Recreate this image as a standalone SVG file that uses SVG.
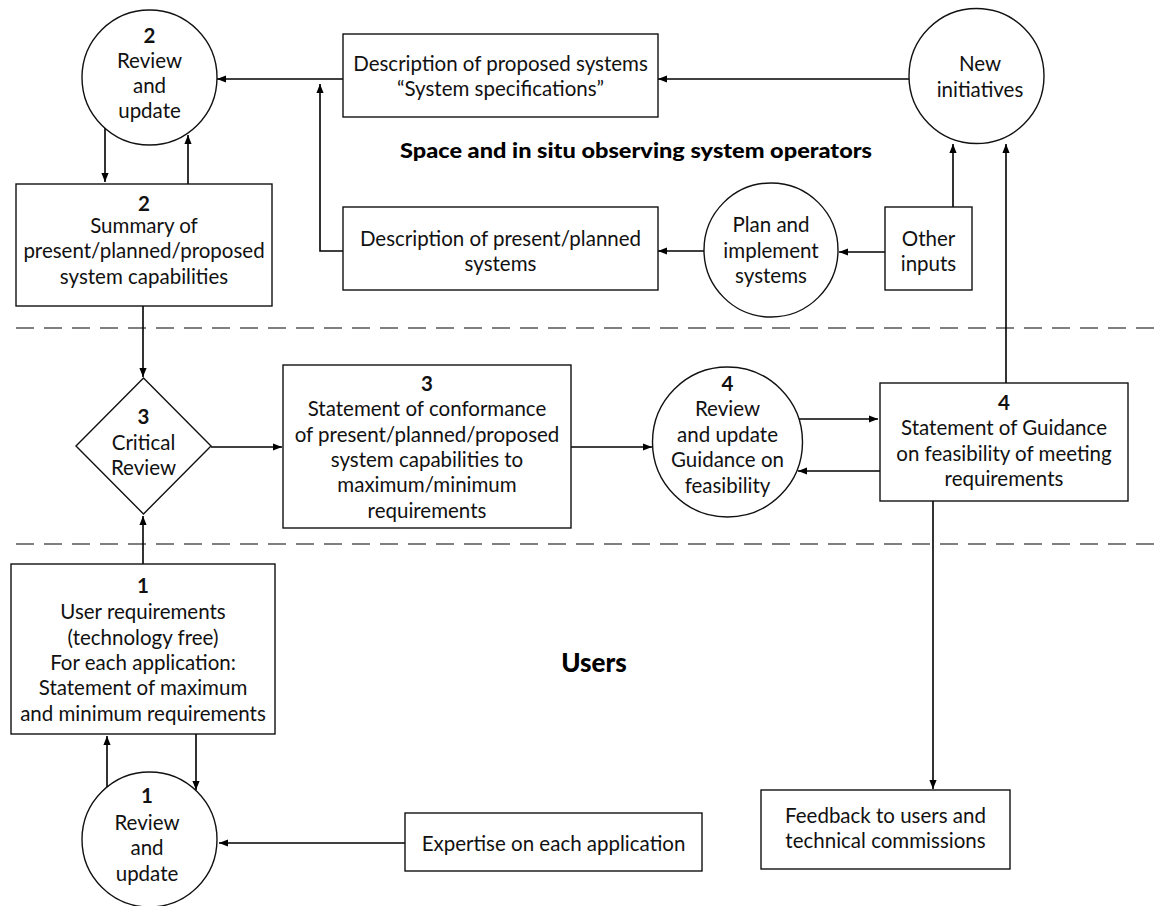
<svg xmlns="http://www.w3.org/2000/svg" width="1157" height="906" viewBox="0 0 1157 906">
<defs>
<marker id="arr" viewBox="0 0 10 8" markerWidth="9" markerHeight="7.5" refX="10" refY="4" orient="auto" markerUnits="userSpaceOnUse">
<path d="M0,0 L10,4 L0,8 z" fill="#000"/>
</marker>
<style>
.n{fill:#fff;stroke:#111;stroke-width:1.4}
.t{font-family:Lato,"Open Sans","DejaVu Sans",sans-serif;font-size:20.5px;fill:#111;text-anchor:middle;dominant-baseline:central}
.b{font-weight:bold}
.c{fill:none;stroke:#000;stroke-width:1.6;marker-end:url(#arr)}
.d{stroke:#555;stroke-width:1.6;stroke-dasharray:18 10;fill:none}
.h{font-family:Lato,"Open Sans","DejaVu Sans",sans-serif;font-weight:900;fill:#000;text-anchor:middle;dominant-baseline:central}
</style>
</defs>
<rect width="1157" height="906" fill="#fff"/>
<g id="dividers">
<line class="d" x1="16" y1="328" x2="1157" y2="328"/>
<line class="d" x1="16" y1="544" x2="1157" y2="544"/>
</g>
<g id="labels">
<text class="h" x="636" y="149" font-size="21" textLength="472" lengthAdjust="spacingAndGlyphs">Space and in situ observing system operators</text>
<text class="h" x="594" y="662" font-size="26">Users</text>
</g>
<g id="connectors">
<path class="c" d="M909,79 H658"/>
<path class="c" d="M343,79 H217"/>
<path class="c" d="M343,251 H320 V84"/>
<path class="c" d="M105,128 V182"/>
<path class="c" d="M188,184 V135"/>
<path class="c" d="M704,251 H658"/>
<path class="c" d="M885,252 H839"/>
<path class="c" d="M953,207 V144"/>
<path class="c" d="M1006,383 V144"/>
<path class="c" d="M143,306 V377"/>
<path class="c" d="M143,564 V516"/>
<path class="c" d="M211,447 H282"/>
<path class="c" d="M571,447 H652"/>
<path class="c" d="M799,419 H878"/>
<path class="c" d="M880,471 H798"/>
<path class="c" d="M933,501 V789"/>
<path class="c" d="M196,734 V790"/>
<path class="c" d="M107,788 V736"/>
<path class="c" d="M405,843 H219"/>
</g>
<g id="review2">
<circle class="n" cx="149.5" cy="77.5" r="67.5"/>
<text class="t b" x="149.5" y="35">2</text>
<text class="t" x="149.5" y="60">Review</text>
<text class="t" x="149.5" y="85">and</text>
<text class="t" x="149.5" y="110">update</text>
</g>
<g id="desc-proposed">
<rect class="n" x="343" y="34" width="315" height="83"/>
<text class="t" x="500.5" y="63">Description of proposed systems</text>
<text class="t" x="500.5" y="88">“System specifications”</text>
</g>
<g id="new-initiatives">
<circle class="n" cx="976.5" cy="76" r="67.5"/>
<text class="t" x="980" y="63">New</text>
<text class="t" x="980" y="89">initiatives</text>
</g>
<g id="summary2">
<rect class="n" x="16" y="184" width="256" height="122"/>
<text class="t b" x="144" y="203">2</text>
<text class="t" x="144" y="225">Summary of</text>
<text class="t" x="144" y="250">present/planned/proposed</text>
<text class="t" x="144" y="276">system capabilities</text>
</g>
<g id="desc-present">
<rect class="n" x="343" y="207" width="315" height="83"/>
<text class="t" x="500.5" y="238">Description of present/planned</text>
<text class="t" x="500.5" y="263">systems</text>
</g>
<g id="plan">
<circle class="n" cx="771" cy="250" r="67"/>
<text class="t" x="771" y="224">Plan and</text>
<text class="t" x="771" y="250">implement</text>
<text class="t" x="771" y="275">systems</text>
</g>
<g id="other-inputs">
<rect class="n" x="885" y="207" width="87" height="83"/>
<text class="t" x="928.5" y="238">Other</text>
<text class="t" x="928.5" y="263">inputs</text>
</g>
<g id="critical3">
<path class="n" d="M143.5,378 L211,446 L143.5,514 L76,446 z"/>
<text class="t b" x="143.5" y="416">3</text>
<text class="t" x="143.5" y="442">Critical</text>
<text class="t" x="143.5" y="467">Review</text>
</g>
<g id="statement3">
<rect class="n" x="283" y="365" width="288" height="163"/>
<text class="t b" x="427" y="383">3</text>
<text class="t" x="427" y="408">Statement of conformance</text>
<text class="t" x="427" y="434">of present/planned/proposed</text>
<text class="t" x="427" y="459">system capabilities to</text>
<text class="t" x="427" y="484">maximum/minimum</text>
<text class="t" x="427" y="510">requirements</text>
</g>
<g id="review4">
<circle class="n" cx="727.5" cy="442" r="75"/>
<text class="t b" x="727.5" y="383">4</text>
<text class="t" x="727.5" y="408">Review</text>
<text class="t" x="727.5" y="434">and update</text>
<text class="t" x="727.5" y="459">Guidance on</text>
<text class="t" x="727.5" y="485">feasibility</text>
</g>
<g id="statement4">
<rect class="n" x="880" y="383" width="248" height="118"/>
<text class="t b" x="1004" y="402">4</text>
<text class="t" x="1004" y="427">Statement of Guidance</text>
<text class="t" x="1004" y="453">on feasibility of meeting</text>
<text class="t" x="1004" y="478">requirements</text>
</g>
<g id="user-req1">
<rect class="n" x="11" y="564" width="264" height="170"/>
<text class="t b" x="143" y="585">1</text>
<text class="t" x="143" y="611">User requirements</text>
<text class="t" x="143" y="637">(technology free)</text>
<text class="t" x="143" y="662">For each application:</text>
<text class="t" x="143" y="687">Statement of maximum</text>
<text class="t" x="143" y="713">and minimum requirements</text>
</g>
<g id="review1">
<circle class="n" cx="149.5" cy="839.5" r="67.5"/>
<text class="t b" x="147" y="795">1</text>
<text class="t" x="147" y="822">Review</text>
<text class="t" x="147" y="847">and</text>
<text class="t" x="147" y="873">update</text>
</g>
<g id="expertise">
<rect class="n" x="405" y="813" width="297" height="58"/>
<text class="t" x="553.5" y="843">Expertise on each application</text>
</g>
<g id="feedback">
<rect class="n" x="761" y="790" width="249" height="79"/>
<text class="t" x="885.5" y="815">Feedback to users and</text>
<text class="t" x="885.5" y="840">technical commissions</text>
</g>
</svg>
